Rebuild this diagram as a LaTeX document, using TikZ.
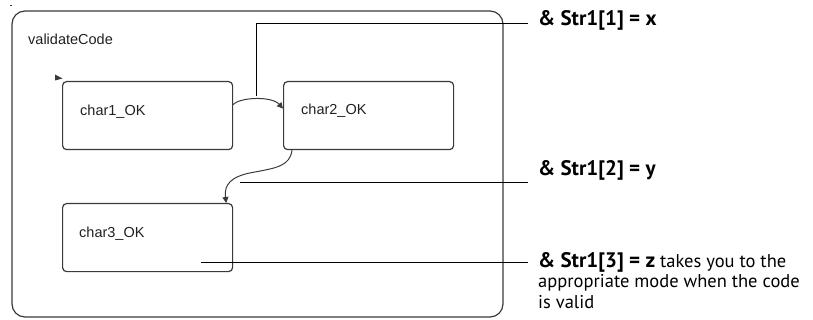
\documentclass[tikz,border=0pt]{standalone}
\usepackage{fontspec}
\setmainfont{PT Sans}
\newfontfamily\uifont{Liberation Sans}
\usetikzlibrary{arrows.meta}
\definecolor{boxgray}{HTML}{3A3A3A}
\definecolor{uitext}{HTML}{202020}
\newcommand{\cond}[1]{{\fontsize{21}{22}\selectfont\bfseries #1}}
\begin{document}
\begin{tikzpicture}[x=1pt,y=-1pt,
  statebox/.style={draw=boxgray, line width=1.2pt, rounded corners=4pt,
    minimum width=170pt, minimum height=68pt, inner sep=0pt, anchor=north west},
  uilabel/.style={font=\uifont\fontsize{14.5}{16}\selectfont, text=uitext, inner sep=0pt, anchor=base west},
  trans/.style={draw=boxgray, line width=1pt, -{Triangle[length=6pt,width=6pt]}},
  callout/.style={draw=black, line width=0.8pt},
  note/.style={font=\fontsize{18.5}{20.5}\selectfont, inner sep=0pt, anchor=base west, align=left}]
\useasboundingbox (0,0) rectangle (813,320);

% enclosing state
\draw[boxgray, line width=1.2pt, rounded corners=13pt] (12,11) rectangle (503,317);
\draw[boxgray, line width=1pt] (10,6) -- (12,6);
\node[uilabel] (title) at (28,45) {validateCode};

% sub-states
\node[statebox] (c1) at (62,81) {};
\node[statebox] (c2) at (283,81) {};
\node[statebox] (c3) at (62,203) {};
\node[uilabel] (t1) at (80,116) {char1\_OK};
\node[uilabel] (t2) at (301,115) {char2\_OK};
\node[uilabel] (t3) at (79,238) {char3\_OK};

% default transition marker
\fill[boxgray] (55,74.5) -- (62.5,78.5) -- (55,80.5) -- cycle;

% transitions
\draw[trans] ([yshift=11pt]c1.east) .. controls (240,97) and (272,96) .. ([yshift=7pt]c2.west);
\draw[trans] ([xshift=9pt]c2.south west) .. controls (290,166) and (276,168) .. (255,172)
  .. controls (230,176) and (224,185) .. ([xshift=-7pt]c3.north east);

% callouts
\coordinate (p1) at (256,96);
\coordinate (p2) at (240,182);
\coordinate (p3) at (201,262);
\coordinate (e1) at (528,23);
\coordinate (e2) at (528,182);
\coordinate (e3) at (528,262);
\draw[callout] (p1) |- (e1);
\draw[callout] (p2) -- (e2);
\draw[callout] (p3) -- (e3);

\node[note] (n1) at (538,26) {\cond{\& Str1[1] = x}};
\node[note] (n2) at (538,176) {\cond{\& Str1[2] = y}};
\node[note] (n3) at (538,308) {\cond{\& Str1[3] = z} takes you to the\\appropriate mode when the code\\is valid};
\end{tikzpicture}
\end{document}
